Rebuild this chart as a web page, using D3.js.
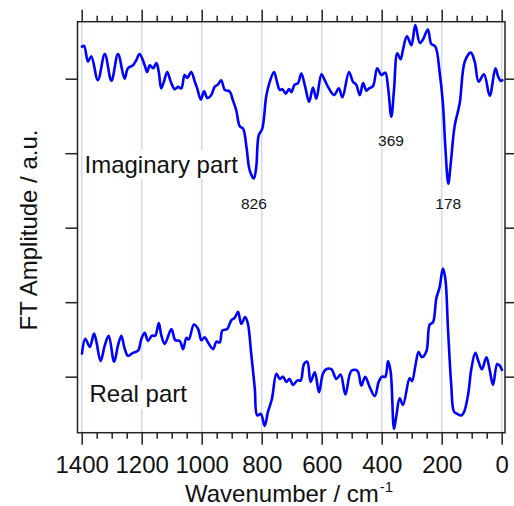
<!DOCTYPE html>
<html>
<head>
<meta charset="utf-8">
<script src="https://cdn.jsdelivr.net/npm/d3@7/dist/d3.min.js"></script>
<style>
  html, body { margin: 0; padding: 0; background: #fff; }
  svg { display: block; }
  text { font-family: "Liberation Sans", Arial, sans-serif; fill: #111; }
</style>
</head>
<body>
<svg id="chart" width="514" height="506"></svg>
<script>
// ---- Data (wavenumber in cm^-1, amplitude in a.u.) ----
const imagWavenumber = [1399,1392,1379,1368,1346,1323,1301,1279,1257,1246,1229,1218,1207,1190,1182,1173,1162,1151,1143,1135,1126,1115,1103,1090,1079,1068,1057,1048,1035,1023,1015,1003,992,981,968,957,946,935,923,907,896,885,873,862,851,840,826,818,810,798,785,773,759,748,740,731,720,709,701,690,679,668,655,642,629,618,601,590,579,559,543,531,509,496,485,473,462,451,442,429,415,401,388,379,368,359,348,337,329,316,301,288,273,262,246,235,221,207,196,188,178,170,157,140,123,103,90,77,59,40,21,12,3,-2];
const imagAmplitude = [4.43,4.44,4.23,4.30,3.98,4.33,3.97,4.33,4.00,4.14,4.18,4.25,4.33,4.18,4.09,4.18,4.14,4.21,4.09,3.87,3.96,4.09,3.96,3.86,3.89,3.87,4.05,4.01,4.09,3.96,3.87,3.72,3.83,3.74,3.78,3.89,3.92,3.98,3.85,3.83,3.71,3.58,3.36,3.33,3.09,2.77,2.66,2.82,3.24,3.33,3.76,3.96,4.09,3.94,3.85,3.86,3.80,3.86,3.82,3.92,3.94,4.07,3.89,3.69,3.88,3.73,4.06,3.98,3.89,3.78,3.87,3.75,4.09,3.96,3.92,3.78,3.94,3.84,3.87,3.90,4.14,4.05,4.08,3.89,3.49,3.85,4.34,4.26,4.39,4.57,4.45,4.72,4.48,4.53,4.66,4.47,4.43,4.09,3.67,3.09,2.59,2.86,3.36,3.67,4.23,4.35,4.23,3.96,4.06,3.77,4.14,4.03,3.97,3.98];

const realWavenumber = [1399,1388,1373,1359,1351,1337,1323,1310,1292,1279,1268,1257,1246,1229,1212,1201,1190,1179,1166,1155,1143,1135,1123,1101,1088,1073,1062,1051,1043,1026,1012,1001,990,979,962,951,940,931,915,901,890,879,868,855,846,835,823,815,803,790,779,766,751,740,729,718,707,696,681,670,659,648,637,623,609,596,585,568,551,537,521,501,481,468,455,440,423,410,399,388,379,370,359,351,340,329,307,299,288,277,266,251,240,229,218,207,196,188,179,168,159,148,135,126,112,101,88,77,66,51,40,29,15,7,-1];
const realAmplitude = [0.31,0.51,0.40,0.58,0.47,0.21,0.42,0.55,0.20,0.42,0.55,0.38,0.28,0.32,0.35,0.51,0.59,0.48,0.55,0.55,0.72,0.56,0.44,0.64,0.49,0.48,0.37,0.52,0.50,0.70,0.64,0.49,0.53,0.46,0.37,0.47,0.46,0.62,0.64,0.76,0.79,0.87,0.71,0.80,0.71,0.31,-0.16,-0.52,-0.50,-0.66,-0.47,-0.30,0.04,-0.03,0.00,-0.07,-0.03,-0.11,-0.05,-0.05,0.17,0.20,-0.07,0.06,-0.21,0.04,0.10,0.10,-0.03,0.03,-0.24,0.08,0.08,-0.12,0.00,-0.14,-0.26,-0.07,0.00,0.00,0.21,0.06,-0.70,-0.52,-0.29,-0.38,-0.02,-0.06,0.14,0.33,0.26,0.34,0.70,0.73,1.05,1.20,1.45,1.32,0.64,-0.12,-0.47,-0.50,-0.52,-0.48,-0.24,0.11,0.32,0.20,0.10,0.26,0.09,-0.11,0.17,0.15,0.09];

const xMajorTicks = [1400,1200,1000,800,600,400,200,0];
const xMinorTicks = [1350,1300,1250,1150,1100,1050,950,900,850,750,700,650,550,500,450,350,300,250,150,100,50];
const yTicks = [0,1,2,3,4];

const peakLabels = ["826","369","178"];
const peakWavenumber = [826,369,178];
const peakLabelAmp = [2.25,3.10,2.25];

const seriesLabels = ["Imaginary part","Real part"];

// ---- Layout ----
const svg = d3.select("#chart");
const mLeft = 77.5, mRight = 505, mTop = 21.7, mBottom = 432.7;

const x = d3.scaleLinear().domain([1414, -11]).range([mLeft, mRight]);
const y = d3.scaleLinear().domain([-0.752, 4.765]).range([mBottom, mTop]);

// grid lines
svg.append("g").selectAll("line").data(xMajorTicks).join("line")
  .attr("x1", d => x(d)).attr("x2", d => x(d))
  .attr("y1", mTop).attr("y2", mBottom)
  .attr("stroke", "#cdd8fb").attr("stroke-width", 1.5);

// series labels with white backgrounds
const labelInfo = [
  {text: seriesLabels[0], x: 84.5, y: 172.7, bx: 83, by: 150, bw: 161, bh: 29},
  {text: seriesLabels[1], x: 89.5, y: 402, bx: 84, by: 380, bw: 106, bh: 29}
];
const lg = svg.append("g");
labelInfo.forEach(l => {
  lg.append("rect").attr("x", l.bx).attr("y", l.by).attr("width", l.bw).attr("height", l.bh).attr("fill", "#fff");
  lg.append("text").attr("x", l.x).attr("y", l.y).attr("font-size", 24).text(l.text);
});

// peak labels
svg.append("g").selectAll("text").data(peakLabels).join("text")
  .attr("x", (d, i) => x(peakWavenumber[i]))
  .attr("y", (d, i) => y(peakLabelAmp[i]))
  .attr("text-anchor", "middle").attr("font-size", 15.5)
  .text(d => d);

// curves
const line = d3.line().x(d => x(d[0])).y(d => y(d[1])).curve(d3.curveCatmullRom.alpha(0.5));
const imag = imagWavenumber.map((w, i) => [w, imagAmplitude[i]]);
const real = realWavenumber.map((w, i) => [w, realAmplitude[i]]);
[imag, real].forEach(s => {
  svg.append("path").datum(s).attr("d", line)
    .attr("fill", "none").attr("stroke", "#0000ff").attr("stroke-width", 2.6)
    .attr("stroke-linejoin", "round").attr("stroke-linecap", "round");
});

// axes
const axisColor = "#222";
function styleAxis(g) {
  g.select(".domain").remove();
  g.selectAll(".tick line").attr("stroke", axisColor).attr("stroke-width", 1.5);
}
svg.append("g").attr("transform", `translate(0,${mBottom})`)
  .call(d3.axisBottom(x).tickValues(xMajorTicks).tickSize(12).tickPadding(11).tickFormat(d3.format("d")))
  .call(styleAxis)
  .call(g => g.selectAll("text").attr("font-size", 24).attr("font-family", "Liberation Sans, Arial, sans-serif").attr("fill", "#111"));
svg.append("g").attr("transform", `translate(0,${mBottom})`)
  .call(d3.axisBottom(x).tickValues(xMinorTicks).tickSize(6).tickFormat(""))
  .call(styleAxis);
svg.append("g").attr("transform", `translate(0,${mTop})`)
  .call(d3.axisTop(x).tickValues(xMajorTicks).tickSize(12).tickFormat(""))
  .call(styleAxis);
svg.append("g").attr("transform", `translate(0,${mTop})`)
  .call(d3.axisTop(x).tickValues(xMinorTicks).tickSize(6).tickFormat(""))
  .call(styleAxis);
svg.append("g").attr("transform", `translate(${mLeft},0)`)
  .call(d3.axisLeft(y).tickValues(yTicks).tickSize(12).tickFormat(""))
  .call(styleAxis);
svg.append("g").attr("transform", `translate(${mRight},0)`)
  .call(d3.axisRight(y).tickValues(yTicks).tickSize(10).tickFormat(""))
  .call(styleAxis);

// frame
svg.append("rect").attr("x", mLeft).attr("y", mTop).attr("width", mRight - mLeft).attr("height", mBottom - mTop)
  .attr("fill", "none").attr("stroke", axisColor).attr("stroke-width", 1.5);

// axis titles
const xt = svg.append("text").attr("x", 185).attr("y", 502).attr("font-size", 24);
xt.append("tspan").text("Wavenumber / cm");
xt.append("tspan").attr("font-size", 15).attr("dy", -10).attr("dx", 1).text("-1");

svg.append("text").attr("transform", "translate(36.5,230) rotate(-90)")
  .attr("text-anchor", "middle").attr("font-size", 24).text("FT Amplitude / a.u.");
</script>
</body>
</html>
